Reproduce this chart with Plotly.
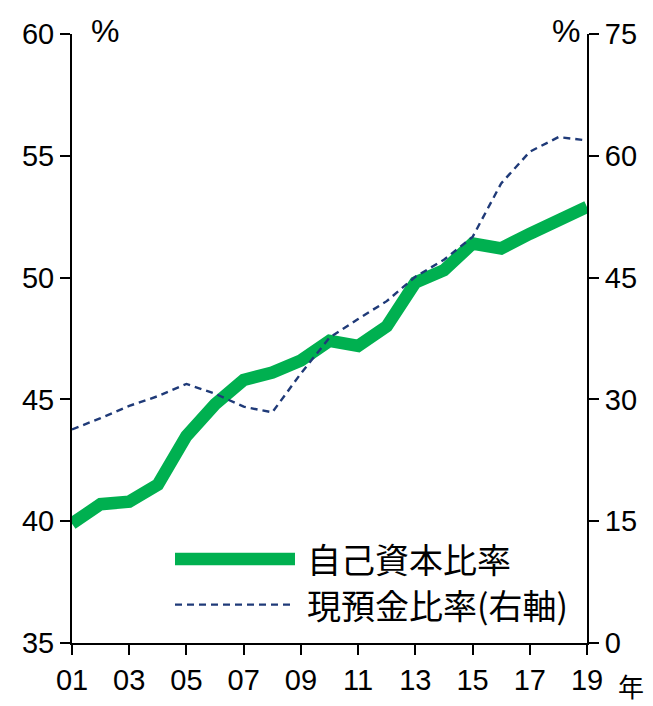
import plotly.graph_objects as go

years = list(range(2001, 2020))
equity_ratio = [39.9, 40.7, 40.8, 41.5, 43.5, 44.8, 45.8, 46.1, 46.6, 47.4,
                47.2, 48.0, 49.8, 50.3, 51.4, 51.2, 51.8, 52.4, 52.9]
cash_ratio = [26.3, 27.7, 29.2, 30.4, 31.9, 30.7, 29.1, 28.4, 33.2, 37.6,
              39.9, 42.1, 45.1, 47.2, 50.0, 56.6, 60.5, 62.3, 61.9]
tick_years = years[::2]
tick_labels = [f"{y % 100:02d}" for y in tick_years]
legend_names = ["自己資本比率", "現預金比率(右軸)"]

GREEN = "#00B050"
NAVY = "#1F3A78"
NUM_FONT = "Liberation Sans Narrow, Arial Narrow, Liberation Sans, sans-serif"
JP_FONT = "Noto Sans CJK JP, sans-serif"

fig = go.Figure()
fig.add_trace(go.Scatter(x=years, y=equity_ratio, mode="lines",
                         line=dict(color=GREEN, width=12.5), name=legend_names[0]))
fig.add_trace(go.Scatter(x=years, y=cash_ratio, mode="lines", yaxis="y2",
                         line=dict(color=NAVY, width=2.4, dash="7px,5px"),
                         name=legend_names[1]))

axis_common = dict(showgrid=False, zeroline=False, showline=True, linecolor="black",
                   linewidth=2, ticks="outside", ticklen=10, tickwidth=2,
                   tickcolor="black", automargin=False,
                   tickfont=dict(family=NUM_FONT, size=29, color="black"))

fig.update_layout(
    width=653, height=706,
    margin=dict(l=72, r=66, t=34, b=63),
    plot_bgcolor="white", paper_bgcolor="white",
    showlegend=False,
    xaxis=dict(range=[2001, 2019], tickvals=tick_years, ticktext=tick_labels, **axis_common),
    yaxis=dict(range=[35, 60], dtick=5, **axis_common),
    yaxis2=dict(range=[0, 75], dtick=15, overlaying="y", side="right", **axis_common),
)

# legend drawn by hand to match the long line samples
fig.add_shape(type="line", xref="paper", yref="paper", x0=0.2, x1=0.433, y0=0.138, y1=0.138,
              line=dict(color=GREEN, width=12.5))
fig.add_shape(type="line", xref="paper", yref="paper", x0=0.2, x1=0.425, y0=0.063, y1=0.063,
              line=dict(color=NAVY, width=2.4, dash="7px,5px"))
for name, yy in zip(legend_names, [0.138, 0.063]):
    fig.add_annotation(text=name, xref="paper", yref="paper", x=0.452, y=yy,
                       xanchor="left", yanchor="middle", showarrow=False,
                       font=dict(family=JP_FONT, size=34, color="black"))

fig.add_annotation(text="%", xref="paper", yref="paper", x=0.064, y=1.005,
                   xanchor="center", yanchor="middle", showarrow=False,
                   font=dict(family=NUM_FONT, size=32, color="black"))
fig.add_annotation(text="%", xref="paper", yref="paper", x=0.96, y=1.005,
                   xanchor="center", yanchor="middle", showarrow=False,
                   font=dict(family=NUM_FONT, size=32, color="black"))
fig.add_annotation(text="年", xref="paper", yref="paper", x=1.085, y=-0.07,
                   xanchor="center", yanchor="middle", showarrow=False,
                   font=dict(family=JP_FONT, size=26, color="black"))

# drop the default page margin so the figure sits at the window's corner
fig.write_html("out.html", config={"displayModeBar": False},
               post_script="document.body.style.margin='0';")
